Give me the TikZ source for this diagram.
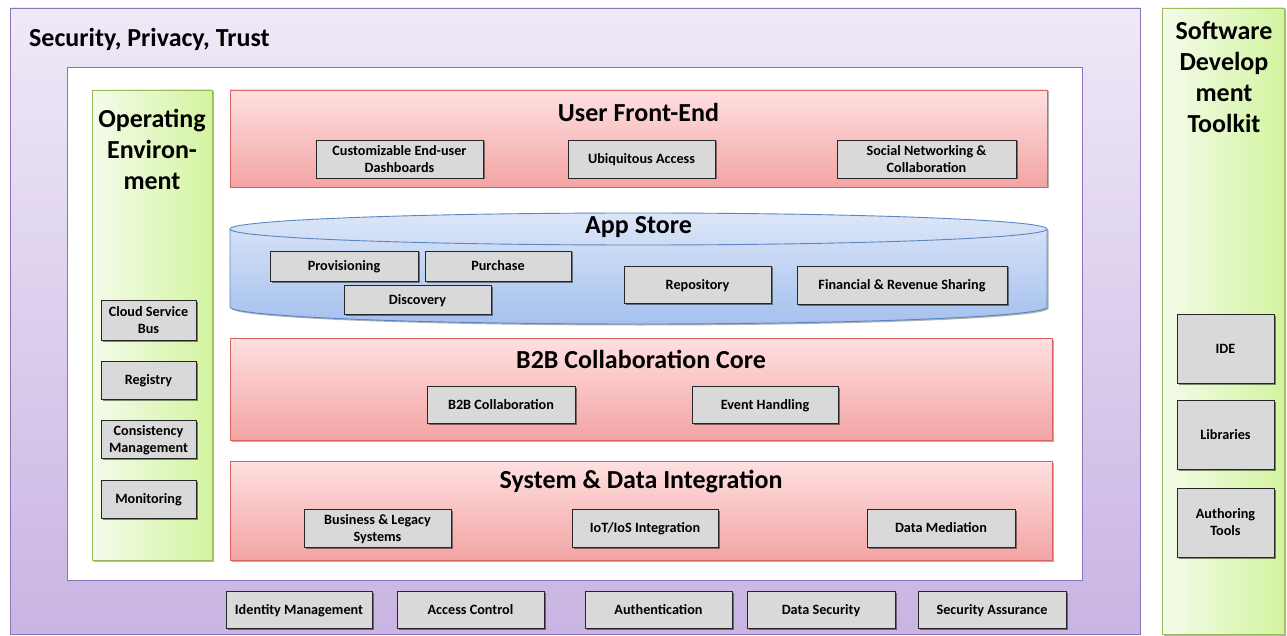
\documentclass[tikz,border=0pt]{standalone}
\usepackage{fontspec}
\setmainfont{Carlito}
\usetikzlibrary{shadows}
\definecolor{purpB}{HTML}{8C74B8}
\definecolor{purpT}{HTML}{EFE9F7}
\definecolor{purpM}{HTML}{C9B4E3}
\definecolor{redB}{HTML}{D9645F}
\definecolor{redT}{HTML}{FFE0E0}
\definecolor{redM}{HTML}{F3A4A4}
\definecolor{bluB}{HTML}{5B86C4}
\definecolor{bluT}{HTML}{DCE6F8}
\definecolor{bluM}{HTML}{A5C1EE}
\definecolor{grnB}{HTML}{9BBB59}
\definecolor{grnL}{HTML}{F4FBEA}
\definecolor{grnR}{HTML}{D3F4A0}
\definecolor{gbox}{HTML}{D9D9D9}
\tikzset{
  sbox/.style={draw=black!85, fill=gbox, line width=0.9pt, align=center, inner sep=0pt,
    font=\bfseries\fontsize{14.2}{17}\selectfont, text height=9.2pt, text depth=0pt,
    drop shadow={shadow xshift=1.5pt, shadow yshift=-1.5pt, opacity=0.45, fill=black}},
  sboxtwo/.style={sbox, text height=26.2pt},
  layer/.style={draw=redB, line width=0.9pt, top color=redT, bottom color=redM, inner sep=0pt,
    drop shadow={shadow xshift=1.5pt, shadow yshift=-1.5pt, opacity=0.3, fill=black}},
  grn/.style={draw=grnB, line width=0.9pt, left color=grnL, right color=grnR, inner sep=0pt,
    drop shadow={shadow xshift=1.5pt, shadow yshift=-1.5pt, opacity=0.3, fill=black}},
  ttl/.style={font=\bfseries\fontsize{26}{31}\selectfont, align=center, inner sep=0pt},
}
\begin{document}
\begin{tikzpicture}[x=1pt,y=-1pt]
\useasboundingbox (0,0) rectangle (1287,636);
% outer security frame
\node[draw=purpB, line width=0.9pt, top color=purpT, bottom color=purpM, inner sep=0pt,
  minimum width=1130, minimum height=626] (outer) at (575,321) {};
\node[ttl, anchor=west] (sectitle) at (29,39) {Security, Privacy, Trust};
\node[draw=purpB, line width=0.9pt, fill=white, inner sep=0pt,
  minimum width=1015, minimum height=513] (inner) at (574.5,323.5) {};
% SDK
\node[grn, minimum width=122, minimum height=626] (sdk) at (1223,321) {};
\node[ttl] (sdktitle) at (1224,77) {Software\\Develop\\ment\\Toolkit};
% operating environment
\node[grn, minimum width=120, minimum height=470] (openv) at (152,325) {};
\node[ttl] (opentitle) at (152,149) {Operating\\Environ-\\ment};
% layers
\node[layer, minimum width=817, minimum height=97] (ufe) at (638.5,138.5) {};
\node[ttl] (ufetitle) at (638.5,112) {User Front-End};
\node[layer, minimum width=822, minimum height=102] (b2bc) at (641,389) {};
\node[ttl] (b2bctitle) at (641,359) {B2B Collaboration Core};
\node[layer, minimum width=822, minimum height=99] (sdi) at (641,510.5) {};
\node[ttl] (sditle) at (641,482) {System \& Data Integration};
% app store cylinder
\path[draw=bluB, line width=0.9pt, top color=bluT, bottom color=bluM,
  drop shadow={shadow xshift=1.5pt, shadow yshift=-1.5pt, opacity=0.3, fill=black}]
  (230,229) -- (230,307) arc[start angle=180, end angle=0, x radius=408.5, y radius=17]
  -- (1047,229) arc[start angle=0, end angle=-180, x radius=408.5, y radius=16] -- cycle;
\draw[bluB, line width=0.9pt] (230,229) arc[start angle=180, end angle=0, x radius=408.5, y radius=16];
\node[ttl] (astitle) at (638.5,227) {App Store};
% small boxes
\node[sboxtwo, minimum width=167, minimum height=38] (cust) at (399.5,159) {Customizable End-user\\Dashboards};
\node[sbox, minimum width=147, minimum height=38] (ubiq) at (641.5,159) {Ubiquitous Access};
\node[sboxtwo, minimum width=179, minimum height=38] (soc) at (926.5,159) {Social Networking \&\\Collaboration};
\node[sbox, minimum width=148, minimum height=30] (prov) at (344,266) {Provisioning};
\node[sbox, minimum width=146, minimum height=30] (purch) at (498,266) {Purchase};
\node[sbox, minimum width=147, minimum height=29] (disc) at (417.5,299.5) {Discovery};
\node[sbox, minimum width=147, minimum height=37] (repo) at (697.5,284.5) {Repository};
\node[sbox, minimum width=210, minimum height=38] (fin) at (902,285) {Financial \& Revenue Sharing};
\node[sbox, minimum width=148, minimum height=37] (b2b) at (501,404.5) {B2B Collaboration};
\node[sbox, minimum width=146, minimum height=37] (evt) at (765,404.5) {Event Handling};
\node[sboxtwo, minimum width=147, minimum height=38] (bus) at (377.5,528) {Business \& Legacy\\Systems};
\node[sbox, minimum width=146, minimum height=38] (iot) at (645,528) {IoT/IoS Integration};
\node[sbox, minimum width=148, minimum height=38] (med) at (941,528) {Data Mediation};
\node[sboxtwo, minimum width=95, minimum height=40] (csb) at (148.5,320) {Cloud Service\\Bus};
\node[sbox, minimum width=95, minimum height=38] (reg) at (148.5,380) {Registry};
\node[sboxtwo, minimum width=95, minimum height=38] (cons) at (148.5,439) {Consistency\\Management};
\node[sbox, minimum width=95, minimum height=38] (mon) at (148.5,499) {Monitoring};
\node[sbox, minimum width=97, minimum height=69] (ide) at (1225.5,348.5) {IDE};
\node[sbox, minimum width=97, minimum height=69] (lib) at (1225.5,434.5) {Libraries};
\node[sboxtwo, minimum width=97, minimum height=69] (auth) at (1225.5,522.5) {Authoring\\Tools};
\node[sbox, minimum width=146, minimum height=37] (idm) at (299,609.5) {Identity Management};
\node[sbox, minimum width=147, minimum height=37] (acc) at (470.5,609.5) {Access Control};
\node[sbox, minimum width=147, minimum height=37] (authn) at (658.5,609.5) {Authentication};
\node[sbox, minimum width=148, minimum height=37] (dsec) at (821,609.5) {Data Security};
\node[sbox, minimum width=148, minimum height=37] (sass) at (992,609.5) {Security Assurance};
\end{tikzpicture}
\end{document}
